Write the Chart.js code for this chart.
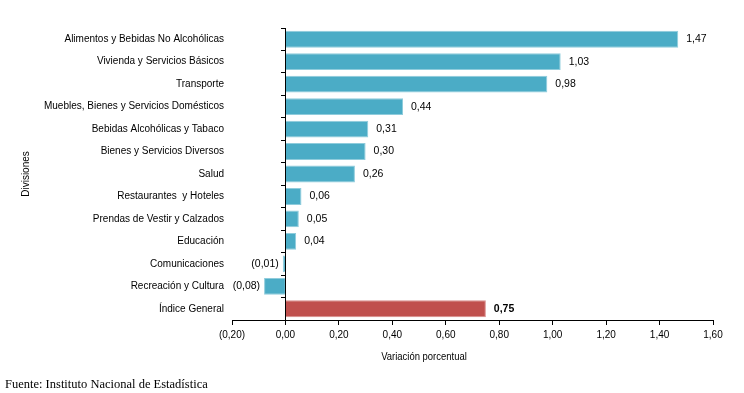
<!DOCTYPE html>
<html>
<head>
<meta charset="utf-8">
<script src="https://cdn.jsdelivr.net/npm/chart.js@4"></script>
<style>
  html, body { margin: 0; padding: 0; background: #fff; }
  #wrap { position: relative; width: 744px; height: 393px; }
  .note { position: absolute; white-space: nowrap; color: #000; }
  #xtitle { left: 424px; top: 350px; transform: translateX(-50%) scaleX(0.86);
    font: 11px 'Liberation Sans', Arial, sans-serif; }
  #source { left: 5px; top: 377px; font: 12.5px 'Liberation Serif', serif; }
</style>
</head>
<body>
<div id="wrap">
  <canvas id="chart" width="744" height="393"></canvas>
  <div class="note" id="xtitle">Variación porcentual</div>
  <div class="note" id="source">Fuente: Instituto Nacional de Estadística</div>
</div>
<script>
const divisiones = [
  'Alimentos y Bebidas No Alcohólicas',
  'Vivienda y Servicios Básicos',
  'Transporte',
  'Muebles, Bienes y Servicios Domésticos',
  'Bebidas Alcohólicas y Tabaco',
  'Bienes y Servicios Diversos',
  'Salud',
  'Restaurantes  y Hoteles',
  'Prendas de Vestir y Calzados',
  'Educación',
  'Comunicaciones',
  'Recreación y Cultura',
  'Índice General'
];
const variacion = [1.47, 1.03, 0.98, 0.44, 0.31, 0.30, 0.26, 0.06, 0.05, 0.04, -0.01, -0.08, 0.75];
const xMin = -0.2, xMax = 1.6, xStep = 0.2;

const FONT = "'Liberation Sans', Arial, sans-serif";
const BLUE = '#4BACC6', RED = '#C0504D';
const BLUE_EDGE = '#8FCCDC', RED_EDGE = '#D98E8C';

// 0,75 style: comma decimals, negatives in brackets
const fmt = v => {
  const s = Math.abs(v).toFixed(2).replace('.', ',');
  return v < 0 ? '(' + s + ')' : s;
};

const isTotal = i => i === divisiones.length - 1;

const barLabels = {
  id: 'barLabels',
  afterDatasetsDraw(chart) {
    const ctx = chart.ctx;
    const meta = chart.getDatasetMeta(0);
    ctx.save();
    ctx.fillStyle = '#000';
    ctx.textBaseline = 'middle';
    meta.data.forEach((bar, i) => {
      const v = variacion[i];
      ctx.font = (isTotal(i) ? 'bold ' : '') + '10.5px ' + FONT;
      if (v >= 0) {
        ctx.textAlign = 'left';
        ctx.fillText(fmt(v), bar.x + 8, bar.y);
      } else {
        ctx.textAlign = 'right';
        ctx.fillText(fmt(v), Math.min(bar.x, bar.base) - 4, bar.y);
      }
    });
    ctx.restore();
  }
};

new Chart(document.getElementById('chart'), {
  type: 'bar',
  data: {
    labels: divisiones,
    datasets: [{
      data: variacion,
      backgroundColor: divisiones.map((_, i) => isTotal(i) ? RED : BLUE),
      borderColor: divisiones.map((_, i) => isTotal(i) ? RED_EDGE : BLUE_EDGE),
      borderWidth: 1,
      categoryPercentage: 1,
      barPercentage: 0.75,
      yAxisID: 'y'
    }]
  },
  options: {
    indexAxis: 'y',
    responsive: false,
    animation: false,
    layout: { padding: { top: 28, right: 31, bottom: 48, left: 0 } },
    plugins: { legend: { display: false }, tooltip: { enabled: false } },
    scales: {
      x: {
        min: xMin,
        max: xMax,
        border: { display: true, color: '#000' },
        grid: { drawOnChartArea: false, drawTicks: true, tickLength: 5, color: '#000' },
        ticks: { stepSize: xStep, color: '#000', padding: 4, font: { family: FONT, size: 10 },
          callback: v => fmt(v) }
      },
      y: {
        type: 'category',
        position: 'left',
        border: { display: false },
        grid: { display: false, drawTicks: false },
        ticks: { color: '#000', padding: 8, font: { family: FONT, size: 10 } },
        title: { display: true, text: 'Divisiones', color: '#000',
          font: { family: FONT, size: 10 }, padding: { top: 20, bottom: 0 } },
        afterFit(scale) { scale.width = 232; }
      },
      y2: {
        type: 'category',
        position: { x: 0 },
        offset: true,
        border: { display: true, color: '#000' },
        grid: { drawOnChartArea: false, drawTicks: true, tickLength: 4, color: '#000', offset: true },
        ticks: { display: false }
      }
    }
  },
  plugins: [barLabels]
});
</script>
</body>
</html>
